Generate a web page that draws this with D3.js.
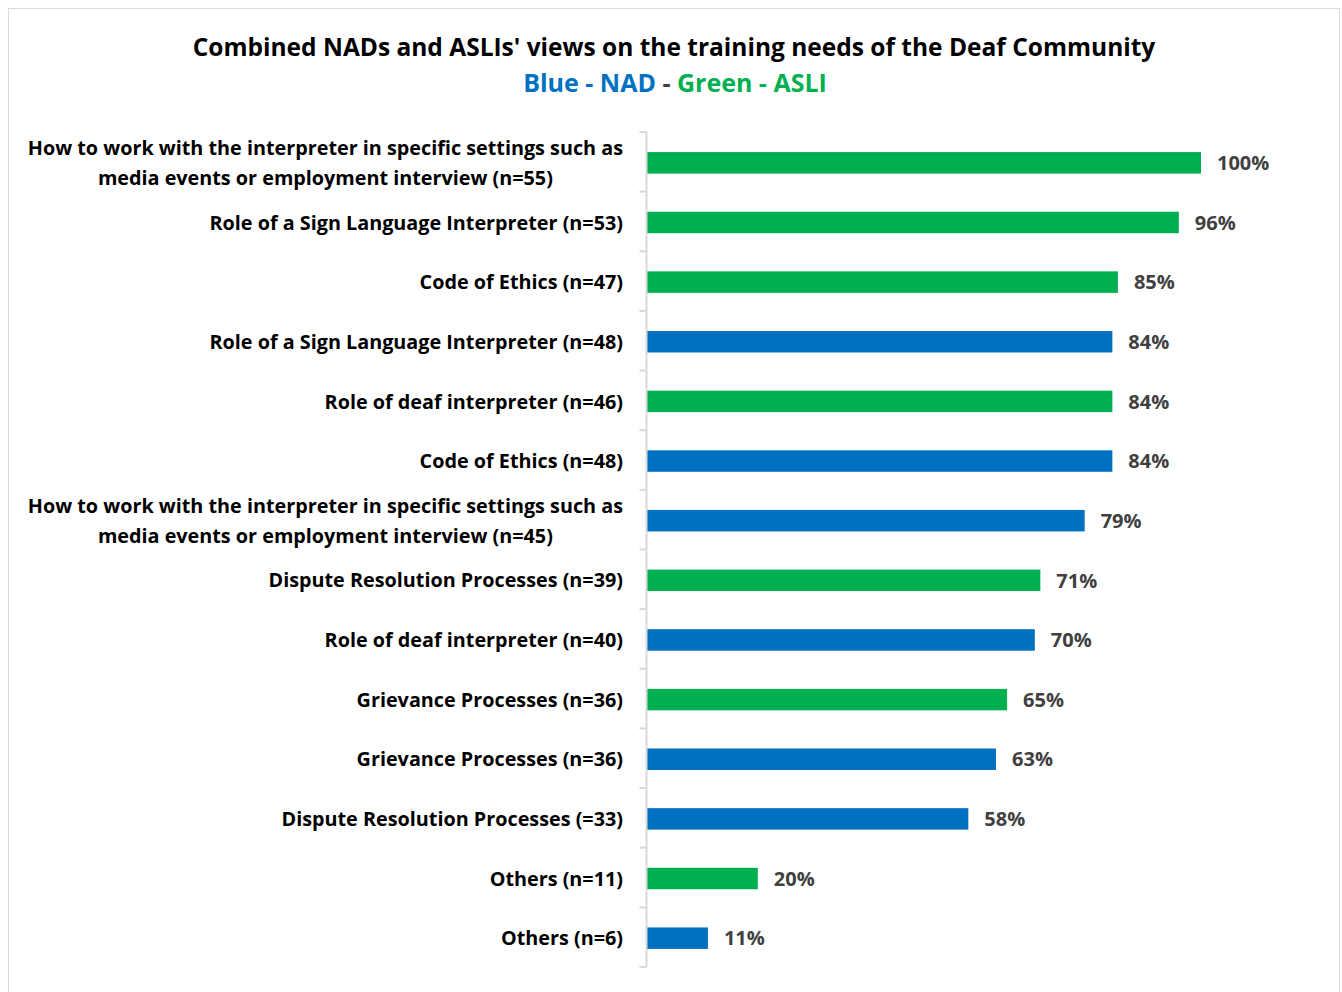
<!DOCTYPE html>
<html>
<head>
<meta charset="utf-8">
<script src="https://cdn.jsdelivr.net/npm/d3@7"></script>
<style>
  html, body { margin: 0; padding: 0; background: #fff; }
  svg { display: block; }
  text { font-family: "Open Sans", Lato, sans-serif; font-weight: bold; }
</style>
</head>
<body>
<svg id="chart" width="1342" height="992"></svg>
<script>
// Training topics, top to bottom
const categories = [
  "How to work with the interpreter in specific settings such as\nmedia events or employment interview (n=55)",
  "Role of a Sign Language Interpreter (n=53)",
  "Code of Ethics (n=47)",
  "Role of a Sign Language Interpreter (n=48)",
  "Role of deaf interpreter (n=46)",
  "Code of Ethics (n=48)",
  "How to work with the interpreter in specific settings such as\nmedia events or employment interview (n=45)",
  "Dispute Resolution Processes (n=39)",
  "Role of deaf interpreter (n=40)",
  "Grievance Processes (n=36)",
  "Grievance Processes (n=36)",
  "Dispute Resolution Processes (=33)",
  "Others (n=11)",
  "Others (n=6)"
];
// Share of respondents (%)
const values = [100, 96, 85, 84, 84, 84, 79, 71, 70, 65, 63, 58, 20, 11];
// Respondent group for each bar
const groups = ["ASLI", "ASLI", "ASLI", "NAD", "ASLI", "NAD", "NAD", "ASLI", "NAD", "ASLI", "NAD", "NAD", "ASLI", "NAD"];

const groupColor = { NAD: "#0070C0", ASLI: "#00B050" };

const svg = d3.select("#chart");
const W = 1342, H = 992;

// Outer frame
svg.append("rect")
  .attr("x", 8.5).attr("y", 8.5)
  .attr("width", W - 11).attr("height", H)
  .attr("fill", "#fff").attr("stroke", "#d9d9d9").attr("stroke-width", 1);

// Title
svg.append("text")
  .attr("x", 674).attr("y", 56)
  .attr("text-anchor", "middle")
  .attr("font-size", 24.5)
  .attr("fill", "#000")
  .text("Combined NADs and ASLIs' views on the training needs of the Deaf Community");

const sub = svg.append("text")
  .attr("x", 675).attr("y", 92)
  .attr("text-anchor", "middle")
  .attr("font-size", 25);
sub.append("tspan").attr("fill", "#0070C0").text("Blue - NAD");
sub.append("tspan").attr("fill", "#404040").text(" - ");
sub.append("tspan").attr("fill", "#00B050").text("Green - ASLI");

const plot = { left: 646.5, right: 1201, top: 132, bottom: 967 };

const x = d3.scaleLinear().domain([0, 100]).range([plot.left + 0.5, plot.right]);
const y = d3.scaleBand()
  .domain(d3.range(categories.length))
  .range([plot.top, plot.bottom])
  .paddingInner(0.64).paddingOuter(0.32);

// Bars
svg.append("g").selectAll("rect")
  .data(values)
  .join("rect")
  .attr("x", x(0))
  .attr("y", (d, i) => y(i) + 1)
  .attr("width", d => x(d) - x(0))
  .attr("height", y.bandwidth())
  .attr("fill", (d, i) => groupColor[groups[i]]);

// Value labels
svg.append("g").selectAll("text")
  .data(values)
  .join("text")
  .attr("x", d => x(d) + 16)
  .attr("y", (d, i) => y(i) + 1 + y.bandwidth() / 2)
  .attr("dy", "0.36em")
  .attr("font-size", 20)
  .attr("fill", "#404040")
  .text(d => d + "%");

// Category axis: line plus ticks at band boundaries
const axisG = svg.append("g");
const step = (plot.bottom - plot.top) / categories.length;
axisG.append("line")
  .attr("x1", plot.left).attr("x2", plot.left)
  .attr("y1", plot.top).attr("y2", plot.bottom)
  .attr("stroke", "#d9d9d9").attr("stroke-width", 2);
axisG.selectAll("line.tick")
  .data(d3.range(categories.length + 1))
  .join("line")
  .attr("class", "tick")
  .attr("x1", plot.left - 7).attr("x2", plot.left)
  .attr("y1", i => plot.top + i * step).attr("y2", i => plot.top + i * step)
  .attr("stroke", "#d9d9d9").attr("stroke-width", 2);

// Category labels (multi-line labels are centred as a block, right-aligned to the axis)
const labelRight = 623;
const lineGap = 30;
categories.forEach((c, i) => {
  const lines = c.split("\n");
  const cy = y(i) + 1 + y.bandwidth() / 2;
  const g = svg.append("g");
  const texts = lines.map((ln, k) => g.append("text")
    .attr("y", cy + (k - (lines.length - 1) / 2) * lineGap)
    .attr("dy", "0.36em")
    .attr("font-size", 19.8)
    .attr("fill", "#000")
    .text(ln));
  const widths = texts.map(t => t.node().getComputedTextLength());
  const maxW = d3.max(widths);
  const center = labelRight - maxW / 2;
  texts.forEach(t => t.attr("x", center).attr("text-anchor", "middle"));
});
</script>
</body>
</html>
